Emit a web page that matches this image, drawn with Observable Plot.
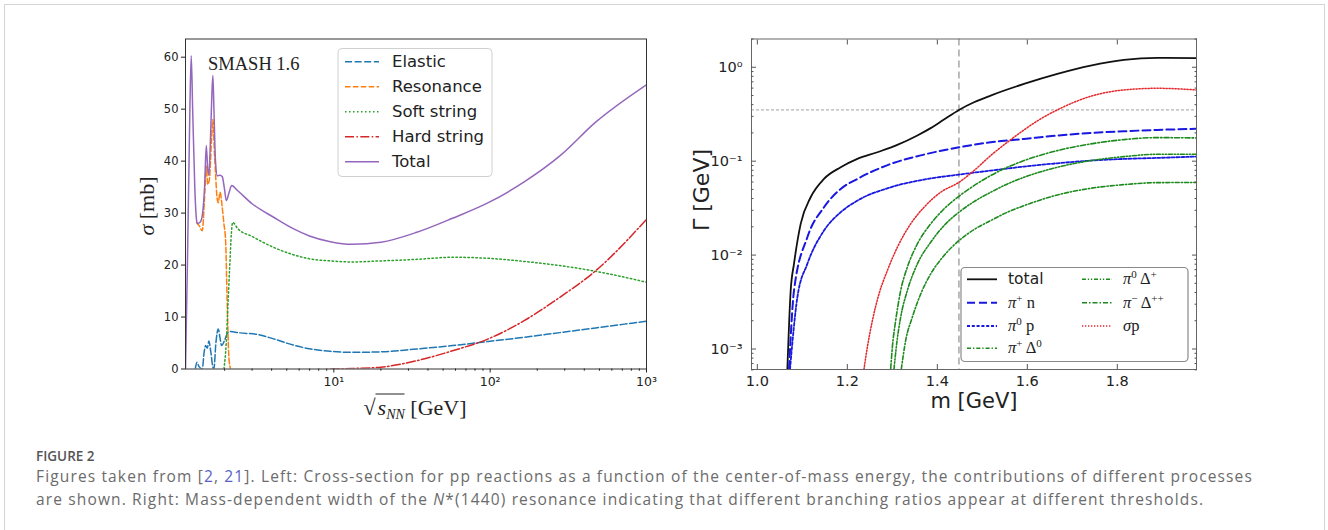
<!DOCTYPE html>
<html><head><meta charset="utf-8">
<script src="https://cdn.jsdelivr.net/npm/d3@7"></script>
<script src="https://cdn.jsdelivr.net/npm/@observablehq/plot@0.6"></script>
<style>
body{margin:0;background:#fff;}
#root{position:relative;width:1328px;height:530px;overflow:hidden;background:#fff;}
.abs{position:absolute;white-space:nowrap;line-height:1;}
.cap{position:absolute;left:36px;white-space:nowrap;font-family:"Open Sans",sans-serif;color:#6b6b6b;}
</style></head><body><div id="root"></div>
<script>
// ---------- LEFT PANEL DATA (sqrt(s_NN) [GeV], sigma [mb]) ----------
const totalX = [1.125,1.16,1.20,1.224,1.25,1.29,1.32,1.34,1.40,1.44,1.49,1.528,1.56,1.587,1.62,1.66,1.684,1.71,1.75,1.797,1.87,1.934,2.0,2.052,2.14,2.22,2.43,3.0,4.12,5.5,6.98,9.5,13.1,20,33.9,57.4,97.3,165,279,473,1000];
const totalY = [0,22,50,60.3,50,35,29,28,28.3,29.5,35,43,38.5,37.3,43,53,56.5,50,40,37.2,37.3,37,34.5,32.4,34,35.3,34.3,31.8,29.2,27.0,25.6,24.5,24.0,24.4,26.3,29.0,32.0,36.0,41.0,47.5,54.7];
const resX = [1.324,1.38,1.44,1.49,1.528,1.56,1.60,1.65,1.684,1.72,1.752,1.79,1.823,1.87,1.934,1.98,2.031,2.083,2.132,2.186];
const resY = [28.2,27.5,26.6,33,39,35.5,36.5,44,48,42,37.5,33,32,34,31,28,24.7,11.8,2.2,0];
const elX = [1.30,1.33,1.37,1.40,1.44,1.48,1.512,1.55,1.587,1.63,1.68,1.709,1.76,1.823,1.87,1.914,2.0,2.08,2.186,2.43,3.32,4.12,5.5,6.98,9.5,13.1,20,33.9,57.4,97.3,165,279,473,1000];
const elY = [0,1.3,0.5,0.2,0,3.2,4.5,4.0,5.4,3.5,0.5,0,5,7.7,6.0,4.5,5.5,6.8,7.2,7.0,6.6,5.8,4.6,3.9,3.4,3.2,3.3,3.85,4.5,5.3,6.1,7.0,7.9,9.2];
const softX = [1.98,2.05,2.10,2.16,2.21,2.253,2.43,3.0,4.12,5.5,6.98,9.5,13.1,20,33.9,57.4,97.3,165,279,473,1000];
const softY = [0,5,12,20,26,28.2,27.0,25.5,23.4,22.0,21.2,20.8,20.6,20.8,21.1,21.5,21.3,20.7,19.9,18.8,16.7];
const hardX = [9.5,13,20,33.9,57.4,97.3,165,279,473,1000];
const hardY = [0,0.1,0.35,1.6,3.5,5.8,9.3,13.8,18.9,28.8];

const leftSeries = ["Elastic","Resonance","Soft string","Hard string","Total"];
const leftYTicks = [0,10,20,30,40,50,60];
const leftXTicks = [10,100,1000];
const leftXTickLabels = ["10¹","10²","10³"];
const leftXMinor = [2,3,4,5,6,7,8,9,20,30,40,50,60,70,80,90,200,300,400,500,600,700,800,900];

// ---------- RIGHT PANEL DATA (m [GeV], Gamma [GeV]) ----------
const mTotal = [1.0667,1.0741,1.0815,1.0963,1.1185,1.1481,1.1852,1.2222,1.2667,1.3111,1.3556,1.3852,1.4148,1.4481,1.4815,1.5185,1.5926,1.6667,1.7407,1.8148,1.8889,1.9756];
const gTotal = [6.1e-4,4.2e-3,8.1e-3,0.0215,0.0413,0.0648,0.0861,0.1057,0.1245,0.1490,0.1880,0.2250,0.2780,0.3515,0.4238,0.500,0.665,0.851,1.042,1.199,1.26,1.25];
const mPin = [1.0704,1.0815,1.1111,1.1481,1.1852,1.2222,1.2963,1.3704,1.4481,1.5185,1.5926,1.6667,1.7407,1.8148,1.8889,1.9756];
const gPin = [6.1e-4,4.2e-3,0.01548,0.0323,0.0506,0.0647,0.0934,0.1175,0.1406,0.159,0.1725,0.1874,0.200,0.2083,0.2153,0.221];
const mPi0p = [1.0726,1.0889,1.1111,1.1481,1.1852,1.2222,1.2963,1.3704,1.4481,1.5185,1.5926,1.6667,1.7407,1.8148,1.8889,1.9756];
const gPi0p = [6.1e-4,3.55e-3,8.06e-3,0.01823,0.0286,0.038,0.0527,0.0637,0.072,0.0794,0.0876,0.095,0.1014,0.1057,0.1084,0.112];
const mSigma = [1.2370,1.2444,1.2556,1.2704,1.2889,1.3111,1.3407,1.3704,1.4074,1.4481,1.4815,1.5185,1.5556,1.5926,1.6296,1.6667,1.7037,1.7407,1.7778,1.8148,1.8889,1.9756];
const gSigma = [6.1e-4,1.04e-3,2.0e-3,3.86e-3,6.84e-3,0.0121,0.0215,0.0323,0.0467,0.0596,0.0794,0.1148,0.159,0.2153,0.282,0.3515,0.4238,0.491,0.542,0.574,0.597,0.574];
const mDpp = [1.2963,1.3,1.3074,1.3185,1.3333,1.3556,1.3852,1.4148,1.4481,1.4815,1.5185,1.5556,1.5926,1.6667,1.7407,1.8148,1.8889,1.9756];
const gDpp = [6.13e-4,1.04e-3,2.0e-3,4.18e-3,7.41e-3,0.01314,0.0215,0.031,0.0423,0.0549,0.0702,0.0861,0.1014,0.1296,0.1526,0.1698,0.1782,0.1768];
const mDp = [1.3037,1.3096,1.3185,1.3333,1.3556,1.3852,1.4148,1.4481,1.4815,1.5185,1.5556,1.5926,1.6667,1.7407,1.8148,1.8889,1.9756];
const gDp = [6.13e-4,1.13e-3,2.18e-3,4.18e-3,8.05e-3,0.01368,0.0206,0.0286,0.0371,0.0466,0.0572,0.0674,0.0861,0.1014,0.1118,0.1184,0.1184];
const mD0 = [1.32,1.3296,1.3444,1.363,1.3852,1.4148,1.4481,1.4815,1.5185,1.5556,1.5926,1.6667,1.7407,1.8148,1.8889,1.9756];
const gD0 = [6.13e-4,1.23e-3,2.18e-3,3.85e-3,6.3e-3,9.87e-3,0.01426,0.01867,0.02328,0.0286,0.0336,0.0437,0.0514,0.0563,0.0591,0.0593];
const refMass = 1.448;
const refWidth = 0.3515;

const rightXTicks = [1.0,1.2,1.4,1.6,1.8];
const rightXTickLabels = ["1.0","1.2","1.4","1.6","1.8"];
const rightYTicks = [1e-3,1e-2,1e-1,1];
const rightYTickLabels = ["10⁻³","10⁻²","10⁻¹","10⁰"];
const rightYMinor = [6e-4,7e-4,8e-4,9e-4,2e-3,3e-3,4e-3,5e-3,6e-3,7e-3,8e-3,9e-3,0.02,0.03,0.04,0.05,0.06,0.07,0.08,0.09,0.2,0.3,0.4,0.5,0.6,0.7,0.8,0.9,2];

// ---------- build ----------
const rows = (xs, ys) => xs.map((x, i) => ({x, y: ys[i]}));
const root = document.getElementById("root");

const LS = {
  Elastic: {stroke: "#1f77b4", dash: "7,2.6", w: 1.5},
  Resonance: {stroke: "#ff7f0e", dash: "5.5,2.4", w: 1.5},
  "Soft string": {stroke: "#2ca02c", dash: "1.5,2.5", w: 1.5},
  "Hard string": {stroke: "#d62728", dash: "9,2.4,1.5,2.4", w: 1.5},
  Total: {stroke: "#9467bd", dash: null, w: 1.5}
};
const leftData = {Elastic: rows(elX, elY), Resonance: rows(resX, resY), "Soft string": rows(softX, softY), "Hard string": rows(hardX, hardY), Total: rows(totalX, totalY)};
const xLabMap = new Map(leftXTicks.map((t, i) => [t, leftXTickLabels[i]]));

const left = Plot.plot({
  width: 570, height: 430, marginLeft: 85, marginRight: 24, marginTop: 38.5, marginBottom: 61.5,
  style: {fontFamily: "DejaVu Sans", fontSize: "11.5px", color: "#222", background: "transparent", overflow: "visible"},
  x: {type: "log", domain: [1.125, 1000], label: null},
  y: {domain: [0, 63.5], label: null},
  marks: [
    ...leftSeries.map(s => Plot.line(leftData[s], {x: "x", y: "y", stroke: LS[s].stroke, strokeWidth: LS[s].w, strokeDasharray: LS[s].dash, curve: "monotone-x", clip: true})),
    Plot.frame({stroke: "#333", strokeWidth: 1}),
    Plot.axisY({ticks: leftYTicks, tickSize: 4, tickPadding: 3, label: null, fontSize: 11.5, tickFormat: d => String(d)}),
    Plot.axisX({ticks: leftXTicks, tickSize: 4, tickPadding: 4, label: null, fontSize: 12.5, tickFormat: d => xLabMap.get(d)}),
    Plot.axisX({ticks: leftXMinor, tickSize: 2.2, label: null, tickFormat: () => ""})
  ]
});
left.style.position = "absolute"; left.style.left = "100px"; left.style.top = "0px";
root.appendChild(left);

const RS = [
  {key: "total", data: rows(mTotal, gTotal), stroke: "#111", dash: null, w: 1.8},
  {key: "pin", data: rows(mPin, gPin), stroke: "#1818e0", dash: "8,4", w: 2},
  {key: "pi0p", data: rows(mPi0p, gPi0p), stroke: "#1818e0", dash: "3,1.8", w: 1.8},
  {key: "pipD0", data: rows(mD0, gD0), stroke: "#1d8a1d", dash: "4,2,1.3,2", w: 1.6},
  {key: "pi0Dp", data: rows(mDp, gDp), stroke: "#1d8a1d", dash: "4,1.8,1.3,1.8,1.3,1.8", w: 1.6},
  {key: "pimDpp", data: rows(mDpp, gDpp), stroke: "#1d8a1d", dash: "5,2,1.5,2", w: 1.6},
  {key: "sigmap", data: rows(mSigma, gSigma), stroke: "#e3262b", dash: "1.3,1.7", w: 1.5}
];
const yLabMap = new Map(rightYTicks.map((t, i) => [t, rightYTickLabels[i]]));
const xLabMapR = new Map(rightXTicks.map((t, i) => [t, rightXTickLabels[i]]));

const right = Plot.plot({
  width: 540, height: 430, marginLeft: 71, marginRight: 24, marginTop: 38.5, marginBottom: 61,
  style: {fontFamily: "DejaVu Sans", fontSize: "14.5px", color: "#222", background: "transparent", overflow: "visible"},
  x: {domain: [0.987, 1.976], label: null},
  y: {type: "log", domain: [6.05e-4, 2.0], label: null},
  marks: [
    Plot.ruleX([refMass], {stroke: "#a0a0a0", strokeWidth: 1.4, strokeDasharray: "7,4"}),
    Plot.ruleY([refWidth], {stroke: "#888", strokeWidth: 0.8, strokeDasharray: "3,2"}),
    ...RS.map(s => Plot.line(s.data, {x: "x", y: "y", stroke: s.stroke, strokeWidth: s.w, strokeDasharray: s.dash, curve: "monotone-x", clip: true})),
    Plot.frame({stroke: "#666", strokeWidth: 1}),
    Plot.axisY({ticks: rightYTicks, tickSize: 0, tickPadding: 9, label: null, fontSize: 14.5, tickFormat: d => yLabMap.get(d)}),
    Plot.axisY({anchor: "left", ticks: rightYTicks, tickSize: -5, label: null, stroke: "#555", tickFormat: () => ""}),
    Plot.axisY({anchor: "right", ticks: rightYTicks, tickSize: -5, label: null, stroke: "#555", tickFormat: () => ""}),
    Plot.axisY({anchor: "left", ticks: rightYMinor, tickSize: -2.5, label: null, stroke: "#555", tickFormat: () => ""}),
    Plot.axisY({anchor: "right", ticks: rightYMinor, tickSize: -2.5, label: null, stroke: "#555", tickFormat: () => ""}),
    Plot.axisX({ticks: rightXTicks, tickSize: 0, tickPadding: 6, label: null, fontSize: 14.5, tickFormat: d => xLabMapR.get(d)}),
    Plot.axisX({anchor: "bottom", ticks: rightXTicks, tickSize: -5, label: null, stroke: "#555", tickFormat: () => ""}),
    Plot.axisX({anchor: "top", ticks: rightXTicks, tickSize: -5, label: null, stroke: "#555", tickFormat: () => ""})
  ]
});
right.style.position = "absolute"; right.style.left = "680px"; right.style.top = "0px";
root.appendChild(right);

// ---------- overlay: legends ----------
const ov = d3.select(root).append("svg").attr("width", 1328).attr("height", 530)
  .style("position", "absolute").style("left", 0).style("top", 0).style("pointer-events", "none");

// left legend
ov.append("rect").attr("x", 338).attr("y", 48.5).attr("width", 154).attr("height", 128).attr("rx", 4)
  .attr("fill", "#fff").attr("fill-opacity", 0.85).attr("stroke", "#d0d0d0");
leftSeries.forEach((s, i) => {
  const y = 61.7 + 25 * i;
  ov.append("line").attr("x1", 345).attr("x2", 379).attr("y1", y).attr("y2", y)
    .attr("stroke", LS[s].stroke).attr("stroke-width", LS[s].w).attr("stroke-dasharray", LS[s].dash);
  ov.append("text").attr("x", 392).attr("y", y).attr("dy", "0.35em").attr("font-family", "DejaVu Sans")
    .attr("font-size", 16.5).attr("fill", "#222").text(s);
});

// right legend
ov.append("rect").attr("x", 961).attr("y", 267.5).attr("width", 227).attr("height", 94).attr("rx", 4)
  .attr("fill", "#fff").attr("stroke", "#8a8a8a").attr("stroke-width", 1.2);
const rightLegend = [
  {s: 0, col: 0, row: 0, parts: [["total", ""]], sans: true},
  {s: 1, col: 0, row: 1, parts: [["π", "i"], ["+", "sup"], [" n", ""]]},
  {s: 2, col: 0, row: 2, parts: [["π", "i"], ["0", "sup"], [" p", ""]]},
  {s: 3, col: 0, row: 3, parts: [["π", "i"], ["+", "sup"], [" Δ", ""], ["0", "sup"]]},
  {s: 4, col: 1, row: 0, parts: [["π", "i"], ["0", "sup"], [" Δ", ""], ["+", "sup"]]},
  {s: 5, col: 1, row: 1, parts: [["π", "i"], ["−", "sup"], [" Δ", ""], ["++", "sup"]]},
  {s: 6, col: 1, row: 2, parts: [["σ", "i"], ["p", ""]]}
];
const rowY = [279.3, 302.7, 326, 348.3];
rightLegend.forEach(e => {
  const st = RS[e.s];
  const x0 = e.col === 0 ? 967 : 1082;
  const tx = e.col === 0 ? 1008 : 1123;
  const y = rowY[e.row];
  ov.append("line").attr("x1", x0).attr("x2", x0 + 30).attr("y1", y).attr("y2", y)
    .attr("stroke", st.stroke).attr("stroke-width", st.w).attr("stroke-dasharray", st.dash);
  const t = ov.append("text").attr("x", tx).attr("y", y + 5).attr("fill", "#222")
    .attr("font-family", e.sans ? "DejaVu Sans" : "Liberation Serif").attr("font-size", e.sans ? 15.5 : 16.5);
  e.parts.forEach(([txt, kind]) => {
    const sp = t.append("tspan").text(txt);
    if (kind === "sup") sp.attr("font-size", 11).attr("dy", -6);
    else if (kind === "i") sp.attr("font-style", "italic");
    if (kind !== "sup" && sp.node().previousSibling && sp.node().previousSibling.getAttribute("dy") === "-6") sp.attr("dy", 6);
  });
});

// ---------- text overlays ----------
function addDiv(html, css) {
  const d = document.createElement("div");
  d.className = "abs"; d.innerHTML = html; Object.assign(d.style, css); root.appendChild(d); return d;
}
addDiv("SMASH 1.6", {left: "208px", top: "55px", fontFamily: "Liberation Serif", fontSize: "18.5px", color: "#222"});
addDiv('<i>σ</i> [mb]', {left: "147px", top: "206px", transform: "translate(-50%,-50%) rotate(-90deg)", fontFamily: "Liberation Serif", fontSize: "22px", color: "#222"});
addDiv('√<span style="border-top:1.3px solid #222;padding-left:2px;"><i>s</i><sub style="font-size:14px;vertical-align:-4px"><i>NN</i></sub></span> [GeV]',
  {left: "415px", top: "409px", transform: "translate(-50%,-50%)", fontFamily: "Liberation Serif", fontSize: "22px", color: "#222"});
addDiv("Γ [GeV]", {left: "702px", top: "190px", transform: "translate(-50%,-50%) rotate(-90deg)", fontFamily: "DejaVu Sans", fontSize: "22px", color: "#222"});
addDiv("m [GeV]", {left: "974px", top: "401px", transform: "translate(-50%,-50%)", fontFamily: "DejaVu Sans", fontSize: "21px", color: "#222"});

// outer border
const border = document.createElement("div");
Object.assign(border.style, {position: "absolute", left: "4px", top: "4px", width: "1321px", height: "560px", border: "1px solid #d4d4d4", boxSizing: "border-box"});
root.appendChild(border);

// caption
const capTitle = "FIGURE 2";
const capLine1 = 'Figures taken from [<span style="color:#5a5fc4">2</span>, <span style="color:#5a5fc4">21</span>]. Left: Cross-section for pp reactions as a function of the center-of-mass energy, the contributions of different processes';
const capLine2 = 'are shown. Right: Mass-dependent width of the <i>N</i>*(1440) resonance indicating that different branching ratios appear at different thresholds.';
function addCap(html, top, css) {
  const d = document.createElement("div"); d.className = "cap"; d.innerHTML = html; d.style.top = top + "px";
  Object.assign(d.style, css); root.appendChild(d); return d;
}
addCap(capTitle, 448, {fontSize: "13.5px", fontWeight: "600", color: "#555", lineHeight: "16px"});
const l1 = addCap(capLine1, 466, {fontSize: "15.5px", lineHeight: "20px"});
const l2 = addCap(capLine2, 489, {fontSize: "15.5px", lineHeight: "20px"});
// fit line 1 to the reference width
const target = 1217;
const w1 = l1.getBoundingClientRect().width;
const n1 = l1.textContent.length;
const ls = (target - w1) / n1;
l1.style.letterSpacing = ls + "px";
l2.style.letterSpacing = ls + "px";
</script></body></html>
